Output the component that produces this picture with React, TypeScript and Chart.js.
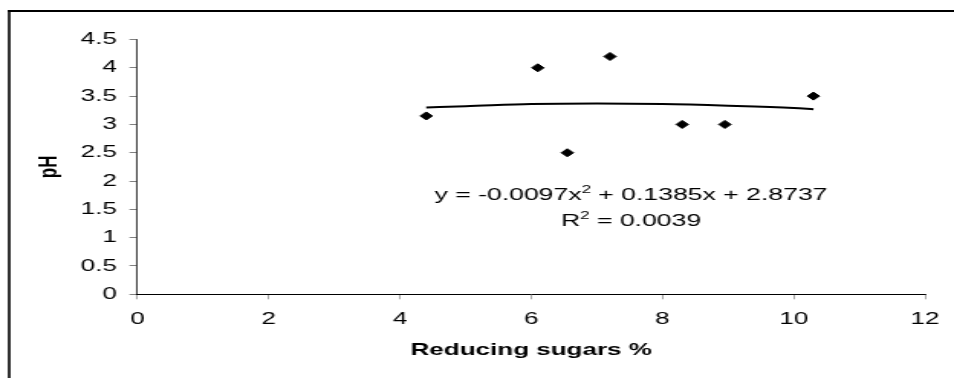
import React, { useEffect, useRef } from "react";
import { Chart, registerables } from "chart.js";

Chart.register(...registerables);

// ---- data ----
const sugarX = [4.4, 6.1, 6.55, 7.2, 8.3, 8.95, 10.3];
const phY = [3.15, 4.0, 2.5, 4.2, 3.0, 3.0, 3.5];

// polynomial trendline
const trendX = [4.4, 5, 6, 7, 8, 9, 10, 10.3];
const trendY = [3.3, 3.32, 3.36, 3.37, 3.36, 3.33, 3.29, 3.27];

const xTicksMin = 0;
const xTicksMax = 12;
const xStep = 2;
const yTicksMin = 0;
const yTicksMax = 4.5;
const yStep = 0.5;

const xTitle = "Reducing sugars %";
const yTitle = "pH";
const eqLine1 = ["y = -0.0097x", "2", " + 0.1385x + 2.8737"];
const eqLine2 = ["R", "2", " = 0.0039"];
const eqAnchor = { x: 7.52, y1: 1.665, y2: 1.21 };

// ---- layout (internal canvas is stretched horizontally like the reference) ----
const OUT_W = 954;
const OUT_H = 378;
const IN_W = 624;
const FONT = '"Liberation Sans", Arial, Helvetica, sans-serif';

const framePlugin = {
  id: "frame",
  beforeDraw(chart: any) {
    const ctx = chart.ctx;
    ctx.save();
    ctx.fillStyle = "#fff";
    ctx.fillRect(0, 0, chart.width, chart.height);
    ctx.fillStyle = "#000";
    ctx.fillRect(5.2, 10, chart.width, 2);
    ctx.fillRect(5.2, 10, 1.6, chart.height);
    ctx.restore();
  },
};

function drawSupLine(ctx: any, parts: string[], cx: number, baseY: number) {
  const big = `17.4px ${FONT}`;
  const small = `11px ${FONT}`;
  ctx.font = big;
  const w0 = ctx.measureText(parts[0]).width;
  const w2 = ctx.measureText(parts[2]).width;
  ctx.font = small;
  const w1 = ctx.measureText(parts[1]).width;
  const total = w0 + w1 + w2;
  let x = cx - total / 2;
  ctx.textBaseline = "alphabetic";
  ctx.textAlign = "left";
  ctx.font = big;
  ctx.fillText(parts[0], x, baseY);
  x += w0;
  ctx.font = small;
  ctx.fillText(parts[1], x, baseY - 7);
  x += w1;
  ctx.font = big;
  ctx.fillText(parts[2], x, baseY);
}

const equationPlugin = {
  id: "equation",
  afterDraw(chart: any) {
    const ctx = chart.ctx;
    const xs = chart.scales.x;
    const ys = chart.scales.y;
    ctx.save();
    ctx.fillStyle = "#000";
    const cx = xs.getPixelForValue(eqAnchor.x);
    drawSupLine(ctx, eqLine1, cx, ys.getPixelForValue(eqAnchor.y1));
    drawSupLine(ctx, eqLine2, cx, ys.getPixelForValue(eqAnchor.y2));
    ctx.restore();
  },
};

export default function App() {
  const canvasRef = useRef<HTMLCanvasElement | null>(null);

  useEffect(() => {
    const canvas = canvasRef.current;
    if (!canvas) return;
    Chart.defaults.font.family = FONT;
    Chart.defaults.color = "#000";

    const points = sugarX.map((x, i) => ({ x, y: phY[i] }));
    const trend = trendX.map((x, i) => ({ x, y: trendY[i] }));

    const chart = new Chart(canvas, {
      type: "scatter",
      data: {
        datasets: [
          {
            label: "pH",
            data: points,
            showLine: false,
            pointStyle: "rectRot",
            pointRadius: 4,
            pointBorderWidth: 1,
            backgroundColor: "#000",
            borderColor: "#000",
          },
          {
            label: "trend",
            data: trend,
            showLine: true,
            pointRadius: 0,
            borderColor: "#000",
            borderWidth: 2,
            tension: 0.4,
            cubicInterpolationMode: "monotone",
          },
        ],
      },
      options: {
        responsive: false,
        animation: false,
        devicePixelRatio: 1,
        layout: { padding: { top: 39.5, right: 14.5, left: 0, bottom: 0 } },
        plugins: {
          legend: { display: false },
          tooltip: { enabled: false },
        },
        scales: {
          x: {
            type: "linear",
            min: xTicksMin,
            max: xTicksMax,
            afterFit: (s: any) => {
              s.height = 83.7;
            },
            ticks: {
              stepSize: xStep,
              padding: 9.5,
              font: { size: 17 },
              color: "#000",
            },
            grid: {
              drawOnChartArea: false,
              drawTicks: true,
              tickLength: 5,
              color: "#808080",
              lineWidth: 0.7,
            },
            border: { color: "#000", width: 1 },
            title: {
              display: true,
              text: xTitle,
              font: { size: 17, weight: "bold" },
              color: "#000",
              padding: { top: 0, bottom: 17.3 },
            },
          },
          y: {
            type: "linear",
            min: yTicksMin,
            max: yTicksMax,
            afterFit: (s: any) => {
              s.width = 89.9;
            },
            ticks: {
              stepSize: yStep,
              padding: 8.2,
              font: { size: 17 },
              color: "#000",
              callback: (v: any) => String(v),
            },
            grid: {
              drawOnChartArea: false,
              drawTicks: true,
              tickLength: 5.2,
              color: "#808080",
              lineWidth: 1,
            },
            border: { color: "#000", width: 0.75 },
            title: {
              display: true,
              text: yTitle,
              font: { size: 17, weight: "bold" },
              color: "#000",
              padding: { top: 22.2, bottom: 0 },
            },
          },
        },
      },
      plugins: [framePlugin, equationPlugin],
    } as any);

    return () => chart.destroy();
  }, []);

  return (
    <div
      style={{
        position: "fixed",
        left: 0,
        top: 0,
        width: OUT_W,
        height: OUT_H,
        background: "#fff",
        overflow: "hidden",
      }}
    >
      <canvas
        ref={canvasRef}
        width={IN_W}
        height={OUT_H}
        style={{ width: `${OUT_W}px`, height: `${OUT_H}px`, display: "block" }}
      />
    </div>
  );
}
